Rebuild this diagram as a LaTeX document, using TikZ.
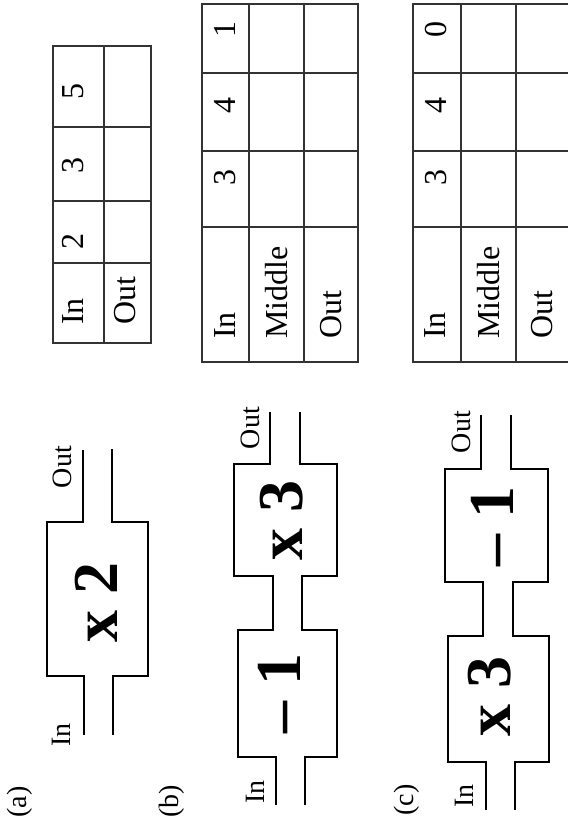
\documentclass[tikz,border=0pt]{standalone}
\usepackage{fontspec}
\setmainfont{Liberation Serif}
\begin{document}
\begin{tikzpicture}[x=1pt,y=-1pt,
  pipe/.style={line width=2.7pt, line join=miter},
  grid/.style={line width=1.3pt, draw=black!80},
  lbl/.style={rotate=90, inner sep=0pt, font=\fontsize{28}{28}\selectfont},
  tt/.style={rotate=90, inner sep=0pt, font=\fontsize{32}{32}\selectfont},
  ttw/.style={tt, anchor=west},
  op/.style={rotate=90, inner sep=0pt, font=\fontsize{64}{64}\selectfont\bfseries}]
\useasboundingbox (0,0) rectangle (568,818);

% ---------- (a) ----------
\node[lbl] (la) at (20,802) {(a)};
\draw[pipe] (83,450) -- (83,522) -- (47,522) -- (47,676) -- (84,676) -- (84,735);
\draw[pipe] (112,449) -- (112,522) -- (148,522) -- (148,676) -- (113,676) -- (113,735);
\node[lbl] (aout) at (62,467) {Out};
\node[lbl] (ain) at (61,735) {In};
\node[op] (aop) at (96,602) {x 2};

% ---------- (b) ----------
\node[lbl] (lb) at (172,801) {(b)};
\draw[pipe] (270,412) -- (270,464) -- (234,464) -- (234,576) -- (273,576) -- (273,630)
  -- (238,630) -- (238,757) -- (276,757) -- (276,805);
\draw[pipe] (300,412) -- (300,464) -- (337,464) -- (337,576) -- (302,576) -- (302,630)
  -- (337,630) -- (337,757) -- (305,757) -- (305,805);
\node[lbl] (bout) at (250,428) {Out};
\node[lbl] (bin) at (255,792) {In};
\node[op] (bop1) at (282,520) {x 3};
\node[op] (bop2) at (279,693) {– 1};

% ---------- (c) ----------
\node[lbl] (lc) at (407,800) {(c)};
\draw[pipe] (481,415) -- (481,469) -- (445,469) -- (445,582) -- (483,582) -- (483,636)
  -- (448,636) -- (448,762) -- (486,762) -- (486,810);
\draw[pipe] (511,415) -- (511,469) -- (548,469) -- (548,582) -- (513,582) -- (513,636)
  -- (549,636) -- (549,762) -- (515,762) -- (515,810);
\node[lbl] (cout) at (461,432) {Out};
\node[lbl] (cin) at (464,796) {In};
\node[op] (cop1) at (492,526) {– 1};
\node[op] (cop2) at (490,696) {x 3};

% ---------- table (a) ----------
\draw[grid] (53,46) rectangle (151,343);
\draw[grid] (104,46) -- (104,343);
\foreach \yy in {127,201,263} \draw[grid] (53,\yy) -- (151,\yy);
\node[ttw] (ta1) at (73,325) {In};
\node[ttw] (ta2) at (125,325) {Out};
\node[tt] (ta3) at (73,241) {2};
\node[tt] (ta4) at (73,166) {3};
\node[tt] (ta5) at (73,92) {5};

% ---------- table (b) ----------
\draw[grid] (202,4) rectangle (358,362);
\foreach \xx in {249,304} \draw[grid] (\xx,4) -- (\xx,362);
\foreach \yy in {73,151,227} \draw[grid] (202,\yy) -- (358,\yy);
\node[ttw] (tb1) at (225,339) {In};
\node[ttw] (tb2) at (277,339) {Middle};
\node[ttw] (tb3) at (331,339) {Out};
\node[tt] (tb4) at (225,178) {3};
\node[tt] (tb5) at (225,106) {4};
\node[tt] (tb6) at (225,30) {1};

% ---------- table (c) ----------
\draw[grid] (568,4) -- (413,4) -- (413,362) -- (568,362);
\foreach \xx in {461,516} \draw[grid] (\xx,4) -- (\xx,362);
\foreach \yy in {73,151,227} \draw[grid] (413,\yy) -- (568,\yy);
\node[ttw] (tc1) at (435,339) {In};
\node[ttw] (tc2) at (489,339) {Middle};
\node[ttw] (tc3) at (542,339) {Out};
\node[tt] (tc4) at (436,178) {3};
\node[tt] (tc5) at (436,106) {4};
\node[tt] (tc6) at (436,30) {0};
\end{tikzpicture}
\end{document}
